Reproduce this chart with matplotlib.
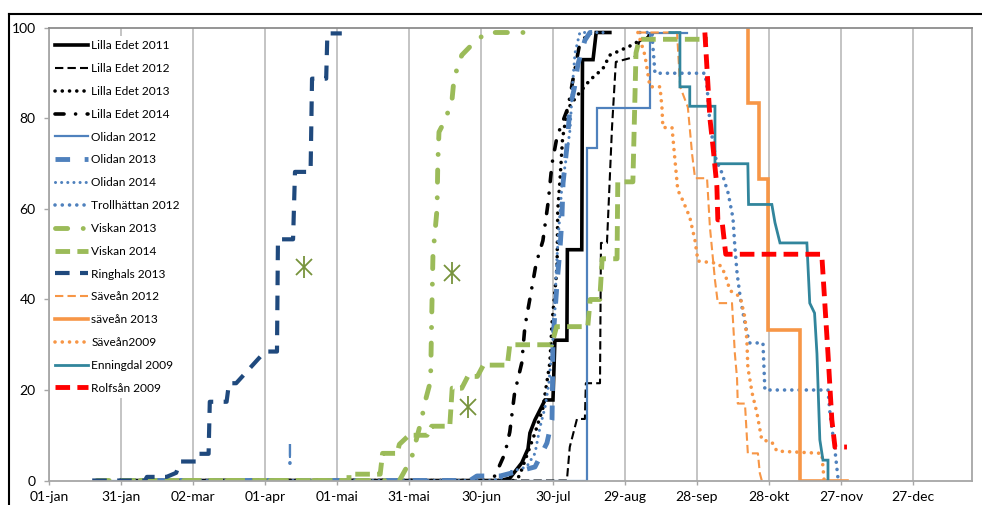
import matplotlib.pyplot as plt
from matplotlib.lines import Line2D

plt.rcParams['font.family'] = ['Lato', 'DejaVu Sans']

# x values are day of year (01-jan = 0), y values are percent
tick_days = [0, 30, 60, 90, 120, 150, 180, 210, 240, 270, 300, 330, 360]
tick_labels = ['01-jan', '31-jan', '02-mar', '01-apr', '01-mai', '31-mai', '30-jun',
               '30-jul', '29-aug', '28-sep', '28-okt', '27-nov', '27-dec']

le2011_day = [30, 188, 192, 197, 199.6, 200.4, 202.5, 206.7, 210, 210.8, 215.8, 216, 222, 222.3, 226.7, 228, 233.7]
le2011_pct = [0, 0, 0.5, 3.9, 7, 10.5, 13.4, 17.8, 17.8, 31, 31, 51, 51, 93, 93, 99, 99]

le2012_day = [30, 215.8, 217, 220, 223.3, 223.7, 229.6, 230, 232.5, 234.6, 236.2, 244, 246, 252.5]
le2012_pct = [0, 0, 7.4, 13.6, 13.6, 21.5, 21.5, 52.5, 52.5, 78, 92.5, 93.6, 97, 99]

le2013_day = [30, 194, 196, 202.5, 205.8, 208.7, 209.6, 211.7, 212, 213, 214, 216, 220, 225.4, 230.8, 233.7, 242, 249, 251.7]
le2013_pct = [0, 0, 1, 10.5, 16, 26, 34.8, 47, 59.8, 67, 75.6, 82, 85, 88.5, 91, 94, 96, 98, 99]

le2014_day = [30, 181.7, 185.8, 190, 192, 194, 197, 198.3, 201, 203, 205.8, 208, 209.6, 211.7, 216.2, 218.3, 221.2, 225.4]
le2014_pct = [0, 0, 1, 6, 10.7, 19.3, 26, 34, 42, 48, 53, 61.5, 70, 76, 82.3, 88.5, 96.7, 99]

ol2012_day = [20, 224.2, 224.2, 228.3, 228.3, 250.4, 250.4, 266]
ol2012_pct = [0, 0, 73.5, 73.5, 82.3, 82.3, 99, 99]

ol2013_day = [30, 175.4, 178.3, 188, 202.5, 207.5, 209.6, 209.8, 210, 211.7, 212.9, 213.7, 214.2, 215.8, 217, 219, 220.4, 223.3, 225.4, 229.6]
ol2013_pct = [0, 0, 1, 1, 3, 8.3, 13.4, 20.7, 31, 43.6, 51, 57.6, 65.7, 73.7, 82, 87, 92, 97.3, 99, 99]

ol2014_day = [30, 185, 190, 192, 199, 202.5, 204.6, 206.7, 208.3, 209.6, 210.8, 211.3, 212.1, 213.7, 215.4, 217.1, 218.3, 219.2, 221.2, 232]
ol2014_pct = [0, 0, 0.8, 1.9, 3, 6, 11.8, 16.2, 21.5, 28.8, 37, 45.8, 53, 65, 70.8, 77.5, 88.5, 94.5, 99, 99]

tr2012_day = [246.2, 251.2, 252.5, 273.3, 274.2, 275.4, 276.7, 278, 280.4, 283, 285, 285.8, 286.7, 288, 289.2, 290.8, 292, 297.5, 298.3, 324.6, 325.4, 327.5, 328.7, 329.6]
tr2012_pct = [99, 99, 90, 90, 87, 79, 74.6, 70.8, 68, 63.5, 58, 51.6, 45.9, 40.6, 37, 32.6, 30.4, 30.4, 20, 20, 15, 6.7, 0.8, 0]

vi2013_day = [20, 146, 151, 155, 157, 159, 159.5, 160, 161.7, 162, 162.5, 165.4, 168, 168.8, 172, 177.5, 182.5, 202]
vi2013_pct = [0, 0, 4.8, 13, 18, 22, 37, 50, 60, 70, 77, 80, 84.5, 89, 94, 97, 99, 99]

vi2014_day = [30, 125, 125, 138, 139, 145, 146, 150, 157.5, 159.5, 167, 168, 172, 174.5, 178.5, 181, 191, 192, 209.5,
              211.5, 224.5, 225.5, 229.5, 230.5, 236.7, 237, 243.3, 244.6, 246, 274.6]
vi2014_pct = [0, 0, 1.4, 1.4, 6, 6, 8, 10, 10, 12, 12, 20.4, 20.4, 23, 23, 25.5, 25.5, 30, 30,
              34, 34, 40, 40, 49, 49, 66, 66, 94.5, 97.5, 97.5]

ri2013_day = [18, 40, 40.8, 49, 53, 54.6, 61.5, 62, 66.5, 67, 74, 75, 78, 90, 95, 95.4, 101.7, 102.5, 109, 109.6, 115.5, 116, 122]
ri2013_pct = [0, 0, 0.8, 0.8, 1.7, 4.2, 4.2, 5.9, 5.9, 17.4, 17.4, 21.5, 21.5, 28.5, 28.5, 53.3, 53.3, 68.2, 68.2, 88.8, 88.8, 98.8, 98.8]

sa2012_day = [245.4, 261.7, 263, 266.2, 268, 269.2, 274.2, 275.4, 277.5, 278.7, 284.6, 285.8, 286.7, 287, 290, 290.8, 291.2, 295.4, 296.2, 297]
sa2012_pct = [99, 99, 87, 82.5, 72, 66.8, 66.8, 56, 44.3, 39.2, 39.2, 28, 22.6, 17, 17, 9.6, 6, 6, 1.6, 0]

sa2013_day = [291.2, 291.2, 295.8, 295.8, 299.6, 299.6, 312.9, 312.9, 332.5]
sa2013_pct = [100, 83.4, 83.4, 66.6, 66.6, 33.3, 33.3, 0, 0]

sa2009_day = [245.4, 248.3, 250.4, 254.6, 255.4, 255.8, 259.6, 260.8, 262, 264, 267, 269.2, 270.4, 278.3, 280.4, 282.5,
              283.7, 288, 290, 290.8, 291.2, 293, 295, 297, 301.2, 303.3, 322, 323]
sa2009_pct = [99, 94, 87, 87, 82.5, 78, 78, 71, 64.2, 62, 58.2, 53, 48.5, 48, 47.2, 44.3,
              42, 40.6, 36, 31, 25, 19.3, 14.9, 9, 8.5, 6.5, 6, 0]

en2009_day = [258.7, 262.9, 262.9, 267, 267, 277.5, 277.5, 291.2, 291.5, 301.2, 302.5, 304.6, 315.8, 317, 319, 320, 321.2, 322.5, 324.6, 324.6]
en2009_pct = [99, 99, 87, 87, 82.7, 82.7, 70, 70, 61, 61, 57, 52.5, 52.5, 39.2, 37, 28, 9, 4.5, 4.5, 0]

ro2009_day = [273.3, 275.4, 276.7, 278.3, 278.7, 280.4, 282, 322, 324.6, 326.2, 327.5, 332.5]
ro2009_pct = [99, 80, 73.7, 65, 57.6, 57.6, 50, 50, 28, 13.4, 7.4, 7.4]

# green star markers and the blue "!"
star_day = [106.3, 168, 174.6]
star_pct = [47.2, 45.9, 16.2]
mark_day = 100.4
mark_pct = 5.2

black = '#000000'
blue = '#4F81BD'
green = '#9BBB59'
navy = '#1F497D'
orange = '#F79646'
teal = '#31859C'
red = '#FF0000'

dot = (0, (0.01, 2.0))
dashdot = (0, (2.5, 3.2, 0.01, 3.2))

series = [
    ('Lilla Edet 2011', le2011_day, le2011_pct, black, 2.6, '-'),
    ('Lilla Edet 2012', le2012_day, le2012_pct, black, 1.5, (0, (4, 2))),
    ('Lilla Edet 2013', le2013_day, le2013_pct, black, 2.6, dot),
    ('Lilla Edet 2014', le2014_day, le2014_pct, black, 2.6, dashdot),
    ('Olidan 2012', ol2012_day, ol2012_pct, blue, 1.6, '-'),
    ('Olidan 2013', ol2013_day, ol2013_pct, blue, 3.5, (0, (3, 3))),
    ('Olidan 2014', ol2014_day, ol2014_pct, blue, 2.2, dot),
    ('Trollhättan 2012', tr2012_day, tr2012_pct, blue, 2.6, dot),
    ('Viskan 2013', vi2013_day, vi2013_pct, green, 3.5, dashdot),
    ('Viskan 2014', vi2014_day, vi2014_pct, green, 3.5, (0, (3, 1.5))),
    ('Ringhals 2013', ri2013_day, ri2013_pct, navy, 3.0, (0, (3.5, 2.5))),
    ('Säveån 2012', sa2012_day, sa2012_pct, orange, 1.5, (0, (4, 2))),
    ('säveån 2013', sa2013_day, sa2013_pct, orange, 2.6, '-'),
    ('Säveån2009', sa2009_day, sa2009_pct, orange, 2.6, dot),
    ('Enningdal 2009', en2009_day, en2009_pct, teal, 2.0, '-'),
    ('Rolfsån 2009', ro2009_day, ro2009_pct, red, 3.5, (0, (3, 1.5))),
]

fig, ax = plt.subplots(figsize=(9.82, 5.05), dpi=100)
fig.subplots_adjust(left=0.0499, right=0.9898, bottom=0.0485, top=0.9446)

for label, d, p, c, lw, ls in series:
    cap = 'round' if ls in (dot, dashdot) else 'butt'
    ax.plot(d, p, color=c, lw=lw, linestyle=ls, label=label,
            dash_capstyle=cap, solid_joinstyle='miter')

# stars drawn as a vertical bar plus an x
ax.plot(star_day, star_pct, linestyle='none', marker='x', ms=12, mew=1.3, color='#77933C')
ax.plot(star_day, star_pct, linestyle='none', marker='|', ms=16, mew=1.3, color='#77933C')
ax.text(mark_day, mark_pct, '!', color=blue, fontsize=21, ha='center', va='center')

ax.set_xlim(0, 384.6)
ax.set_ylim(0, 100)
ax.set_xticks(tick_days)
ax.set_xticklabels(tick_labels)
ax.set_yticks([0, 20, 40, 60, 80, 100])
ax.tick_params(axis='x', length=3, width=1, color='#A6A6A6', pad=4.5, labelsize=10)
ax.tick_params(axis='y', length=3.6, width=1, color='#A6A6A6', pad=6, labelsize=10)
ax.grid(axis='x', color='#BFBFBF', lw=1.3)
ax.set_axisbelow(True)
for s in ax.spines.values():
    s.set_color('#A6A6A6')
    s.set_linewidth(1.3)
ax.spines['top'].set_color('#8C8C8C')

leg = ax.legend(loc='upper left', bbox_to_anchor=(0.002, 0.982), borderaxespad=0,
                fontsize=8.6, frameon=True, framealpha=1, edgecolor='none', facecolor='white',
                handlelength=2.75, handletextpad=0.3, labelspacing=0.99, borderpad=0.35)
leg.set_zorder(10)

# outer chart border (top and left edges of the cropped chart frame)
fig.add_artist(Line2D([9 / 982, 1], [1 - 14 / 505, 1 - 14 / 505], color='black', lw=1.5))
fig.add_artist(Line2D([9 / 982, 9 / 982], [0, 1 - 14 / 505], color='black', lw=1.5))

plt.savefig('out.png', dpi=100)
